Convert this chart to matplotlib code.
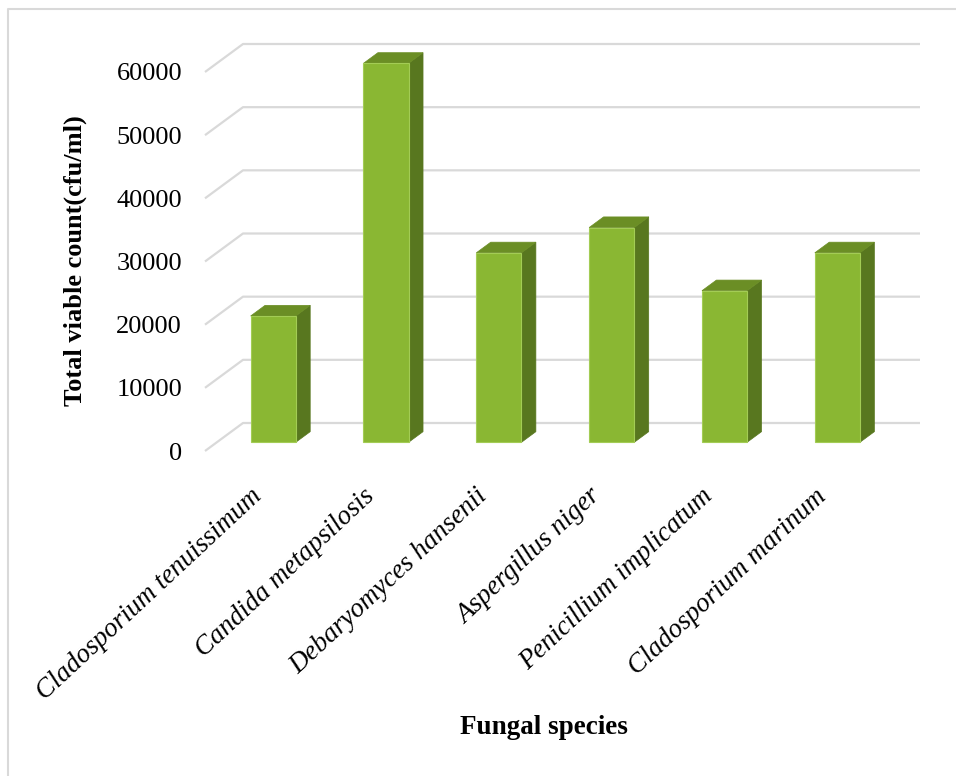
import matplotlib
matplotlib.use("Agg")
import matplotlib.pyplot as plt
import matplotlib.transforms as mtransforms
from matplotlib.patches import Polygon
from matplotlib.lines import Line2D

# fungal isolates and their total viable counts
species = ["Cladosporium tenuissimum", "Candida metapsilosis",
           "Debaryomyces hansenii", "Aspergillus niger",
           "Penicillium implicatum", "Cladosporium marinum"]
counts = [20000, 60000, 30000, 34000, 24000, 30000]
yticks = [0, 10000, 20000, 30000, 40000, 50000, 60000]

plt.rcParams['font.family'] = ['Liberation Serif', 'DejaVu Serif']

W, H = 956, 776
fig = plt.figure(figsize=(W / 100, H / 100), dpi=100)
ax = fig.add_axes([205 / W, (H - 451) / H, 677 / W, 379 / H])
ax.set_xlim(-0.5, len(species) - 0.5)
ax.set_ylim(0, 60000)
for s in ax.spines.values():
    s.set_visible(False)
ax.patch.set_visible(False)

# depth of the 3d box, given in pixels and turned into data units
pts = ax.transData.transform([(0, 0), (1, 10000)])
cat_px = pts[1, 0] - pts[0, 0]
val_px = (pts[1, 1] - pts[0, 1]) / 10000
dx = 38 / cat_px
dy = 28 / val_px

grid_col = '#D9D9D9'
x_end = len(species) - 0.5
for v in yticks:
    ax.plot([-0.5, -0.5 + dx, x_end + dx], [v, v + dy, v + dy],
            color=grid_col, lw=1.6, clip_on=False, zorder=1,
            solid_capstyle='butt')

# 3d columns: front face, top and right side
front_col = '#8AB733'
top_col = '#6B8E25'
side_col = '#58771F'
d0, d1 = 0.31, 0.69
half = 0.2
for i, c in enumerate(counts):
    x0 = i - half + d0 * dx
    x1 = i + half + d0 * dx
    y0 = d0 * dy
    yt = c + d0 * dy
    ox = (d1 - d0) * dx
    oy = (d1 - d0) * dy
    side = Polygon([(x1, y0), (x1 + ox, y0 + oy), (x1 + ox, yt + oy), (x1, yt)],
                   closed=True, fc=side_col, ec=side_col, lw=0.5,
                   clip_on=False, zorder=3)
    top = Polygon([(x0, yt), (x1, yt), (x1 + ox, yt + oy), (x0 + ox, yt + oy)],
                  closed=True, fc=top_col, ec=top_col, lw=0.5,
                  clip_on=False, zorder=3)
    front = Polygon([(x0, y0), (x1, y0), (x1, yt), (x0, yt)],
                    closed=True, fc=front_col, ec='#A3CC55', lw=0.8,
                    clip_on=False, zorder=4)
    ax.add_patch(side)
    ax.add_patch(top)
    ax.add_patch(front)

ax.set_yticks(yticks)
ax.set_yticklabels([str(v) for v in yticks], fontsize=19)
ax.tick_params(axis='y', length=0, pad=16.5)
ax.set_xticks([])

lab_tr = mtransforms.offset_copy(ax.transData, fig=fig, x=-3, y=-42, units='dots')
for i, name in enumerate(species):
    ax.text(i, 0, name, transform=lab_tr, rotation=43, rotation_mode='anchor',
            ha='right', va='center', fontsize=19.5, style='italic')

fig.text(75 / W, 1 - 261 / H, "Total viable count(cfu/ml)", rotation=90,
         ha='center', va='center', fontsize=19, fontweight='bold')
fig.text(544 / W, 1 - 728 / H, "Fungal species",
         ha='center', va='center', fontsize=19.5, fontweight='bold')

# chart border
fig.add_artist(Line2D([8 / W, 8 / W, 1], [0, 1 - 9 / H, 1 - 9 / H],
                      transform=fig.transFigure, color=grid_col, lw=1.5))

fig.savefig('out.png', dpi=100)
